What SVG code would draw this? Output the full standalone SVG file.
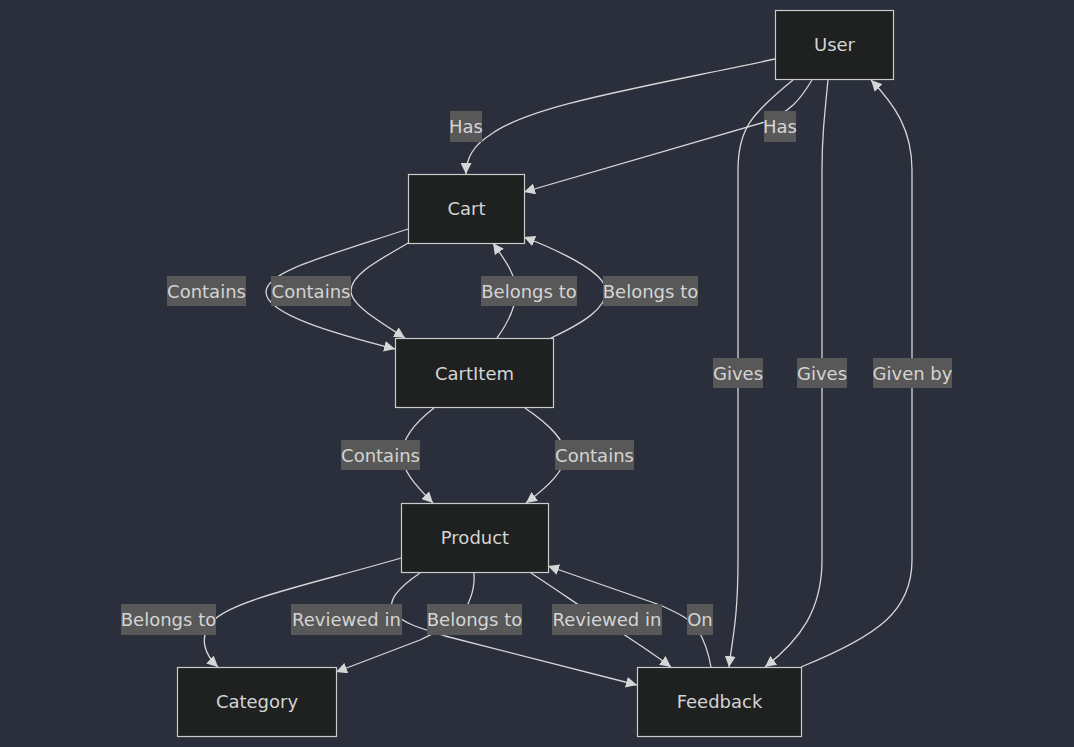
<svg xmlns="http://www.w3.org/2000/svg" width="1074" height="747" viewBox="0 0 1074 747">
<style>
.node rect{fill:#1f2020;stroke:#cccccc;stroke-width:1.2}
.node text{fill:#d4d4d4;font-family:"DejaVu Sans",sans-serif;font-size:18px;text-anchor:middle;dominant-baseline:central}
.edge{fill:none;stroke:#d6d6d6;stroke-width:1.3;marker-end:url(#arr)}
.lbl rect{fill:#585858}
.lbl text{fill:#d4d4d4;font-family:"DejaVu Sans",sans-serif;font-size:18px;text-anchor:middle;dominant-baseline:central}
</style>
<defs>
<marker id="arr" viewBox="0 0 10 10" refX="10" refY="5" markerWidth="11" markerHeight="11" markerUnits="userSpaceOnUse" orient="auto">
<path d="M0,0 L10,5 L0,10 z" fill="#d6d6d6"/>
</marker>
</defs>
<rect width="1074" height="747" fill="#2a2f3b"/>
<g id="connectors">
<path class="edge" d="M775,59 C640,88 530,105 490,135 Q466,150 466,174"/>
<path class="edge" d="M812,80 C800,100 790,112 765,122 L524,192"/>
<path class="edge" d="M793,80 C750,115 738,130 738,170 L738,560 C738,620 732,640 729,667"/>
<path class="edge" d="M828,80 C824,120 822,140 822,170 L822,560 C822,610 800,640 765,667"/>
<path class="edge" d="M801,667 C880,635 912,610 912,560 L912,170 C912,130 895,105 871,80"/>
<path class="edge" d="M408,229 C320,258 266,272 266,292 C266,315 340,335 395,349"/>
<path class="edge" d="M410,242 C375,262 351,275 351,291 C351,305 380,322 405,338"/>
<path class="edge" d="M497,338 C510,320 516,305 516,291 C516,275 505,260 493,243"/>
<path class="edge" d="M551,338 C585,322 606,308 606,291 C606,275 570,255 524,237"/>
<path class="edge" d="M434,408 C412,425 402,440 402,455 C402,470 415,485 433,503"/>
<path class="edge" d="M525,408 C550,425 565,440 565,455 C565,470 550,485 526,503"/>
<path class="edge" d="M401,558 C320,582 230,600 212,622 C198,638 205,655 218,667"/>
<path class="edge" d="M420,573 C398,588 385,602 395,614 C405,624 420,628 445,636 L637,685"/>
<path class="edge" d="M474,573 C475,590 470,600 465,610 C455,625 440,630 420,640 L336,672"/>
<path class="edge" d="M531,573 C560,592 600,620 620,632 C640,645 655,655 671,667"/>
<path class="edge" d="M711,667 C708,650 704,640 698,630 C690,618 675,612 660,605 L548,566"/>
</g>
<g id="labels">
<g class="lbl"><rect x="450" y="111" width="32" height="31"/><text x="466" y="126.5">Has</text></g>
<g class="lbl"><rect x="764" y="111" width="32" height="31"/><text x="780" y="126.5">Has</text></g>
<g class="lbl"><rect x="167" y="276" width="79" height="30"/><text x="206.5" y="291">Contains</text></g>
<g class="lbl"><rect x="271" y="276" width="80" height="30"/><text x="311" y="291">Contains</text></g>
<g class="lbl"><rect x="481" y="276" width="96" height="30"/><text x="529" y="291">Belongs to</text></g>
<g class="lbl"><rect x="603" y="276" width="95" height="30"/><text x="650.5" y="291">Belongs to</text></g>
<g class="lbl"><rect x="713" y="358" width="50" height="30"/><text x="738" y="373">Gives</text></g>
<g class="lbl"><rect x="797" y="358" width="50" height="30"/><text x="822" y="373">Gives</text></g>
<g class="lbl"><rect x="873" y="358" width="79" height="30"/><text x="912.5" y="373">Given by</text></g>
<g class="lbl"><rect x="341" y="440" width="79" height="30"/><text x="380.5" y="455">Contains</text></g>
<g class="lbl"><rect x="555" y="440" width="79" height="30"/><text x="594.5" y="455">Contains</text></g>
<g class="lbl"><rect x="121" y="604" width="95" height="31"/><text x="168.5" y="619.5">Belongs to</text></g>
<g class="lbl"><rect x="291" y="604" width="111" height="31"/><text x="346.5" y="619.5">Reviewed in</text></g>
<g class="lbl"><rect x="427" y="604" width="95" height="31"/><text x="474.5" y="619.5">Belongs to</text></g>
<g class="lbl"><rect x="552" y="604" width="110" height="31"/><text x="607" y="619.5">Reviewed in</text></g>
<g class="lbl"><rect x="687" y="604" width="26" height="31"/><text x="700" y="619.5">On</text></g>
</g>
<g id="User" class="node"><rect x="775.5" y="10.5" width="118" height="69"/><text x="834.5" y="44">User</text></g>
<g id="Cart" class="node"><rect x="408.5" y="174.5" width="116" height="69"/><text x="466.5" y="208">Cart</text></g>
<g id="CartItem" class="node"><rect x="395.5" y="338.5" width="158" height="69"/><text x="474.5" y="373">CartItem</text></g>
<g id="Product" class="node"><rect x="401.5" y="503.5" width="147" height="69"/><text x="475" y="537">Product</text></g>
<g id="Category" class="node"><rect x="177.5" y="667.5" width="159" height="69"/><text x="257" y="701">Category</text></g>
<g id="Feedback" class="node"><rect x="637.5" y="667.5" width="164" height="69"/><text x="719.5" y="701">Feedback</text></g>
</svg>
